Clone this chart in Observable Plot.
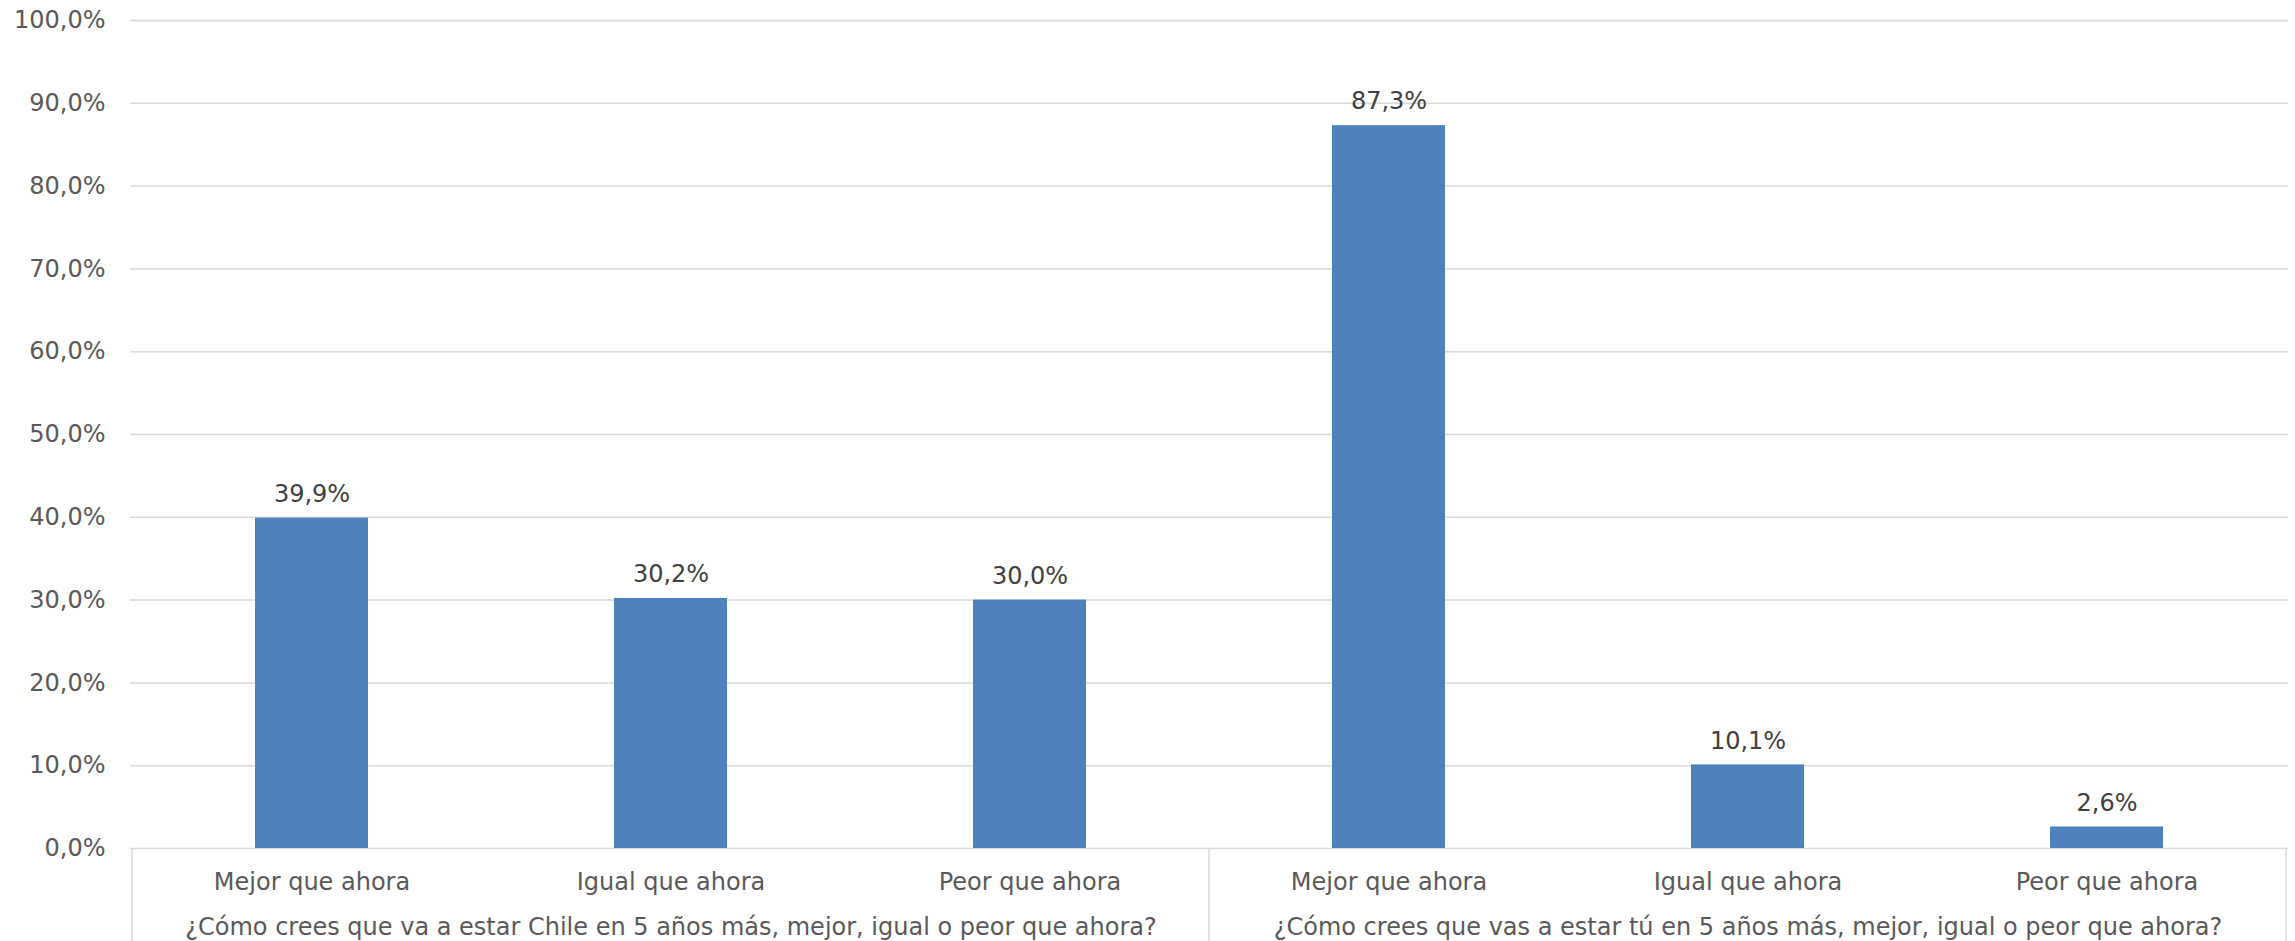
<!DOCTYPE html>
<html>
<head>
<meta charset="utf-8">
<script src="https://cdn.jsdelivr.net/npm/d3@7"></script>
<script src="https://cdn.jsdelivr.net/npm/@observablehq/plot@0.6"></script>
<style>
  html, body { margin: 0; padding: 0; background: #ffffff; }
  #chart svg { display: block; }
</style>
</head>
<body>
<div id="chart"></div>
<script>
// ---- Data ----
const questions = [
  "¿Cómo crees que va a estar Chile en 5 años más, mejor, igual o peor que ahora?",
  "¿Cómo crees que vas a estar tú en 5 años más, mejor, igual o peor que ahora?"
];
const answers = ["Mejor que ahora", "Igual que ahora", "Peor que ahora"];
const chileValues = [39.9, 30.2, 30.0];
const tuValues = [87.3, 10.1, 2.6];
const yTicks = [0, 10, 20, 30, 40, 50, 60, 70, 80, 90, 100];

// ---- Build table ----
const seriesValues = [chileValues, tuValues];
const data = [];
questions.forEach((q, gi) => {
  answers.forEach((a, ai) => {
    data.push({key: gi + "|" + a, group: gi, answer: a, value: seriesValues[gi][ai]});
  });
});
const keys = data.map(d => d.key);
const groupLabels = questions.map((q, gi) => ({key: gi + "|" + answers[1], label: q}));

const fmt = v => v.toFixed(1).replace(".", ",") + "%";

const W = 2295, H = 941;
const mL = 130, mR = 7, mT = 20, mB = 93;
const font = "DejaVu Sans, Verdana, sans-serif";

const chart = Plot.plot({
  width: W,
  height: H,
  marginLeft: mL,
  marginRight: mR,
  marginTop: mT,
  marginBottom: mB,
  style: {fontFamily: font, fontSize: "24px", color: "#595959", background: "#ffffff"},
  x: {domain: keys, paddingInner: 0.686, paddingOuter: 0.343, label: null},
  y: {domain: [0, 100], label: null},
  marks: [
    Plot.ruleY(yTicks, {stroke: "#d9d9d9", strokeWidth: 1.5}),
    Plot.barY(data, {x: "key", y: "value", fill: "#4F81BD"}),
    Plot.text(data, {x: "key", y: "value", text: d => fmt(d.value), dy: -24, fill: "#404040", fontSize: 24}),
    Plot.axisY({ticks: yTicks, tickSize: 0, tickPadding: 25, tickFormat: fmt, fontSize: 24, fill: "#595959", label: null}),
    Plot.axisX({tickSize: 0, tickPadding: 24, tickFormat: d => d.split("|")[1], fontSize: 24, fill: "#595959", label: null}),
    Plot.text(groupLabels, {x: "key", text: "label", frameAnchor: "bottom", lineAnchor: "middle", dy: 79, fill: "#595959", fontSize: 24})
  ]
});

// Category box separators below the axis, positioned with the x scale
const xs = chart.scale("x");
const gap = (xs.step - xs.bandwidth) / 2;
const bounds = [
  xs.apply(keys[0]) - gap,
  xs.apply(keys[3]) - gap,
  xs.apply(keys[5]) + xs.bandwidth + gap
];
const svg = d3.select(chart);
svg.append("g")
  .selectAll("line")
  .data(bounds)
  .join("line")
  .attr("x1", d => d).attr("x2", d => d)
  .attr("y1", H - mB).attr("y2", H)
  .attr("stroke", "#d9d9d9")
  .attr("stroke-width", 1.5);

document.getElementById("chart").appendChild(chart);
</script>
</body>
</html>
